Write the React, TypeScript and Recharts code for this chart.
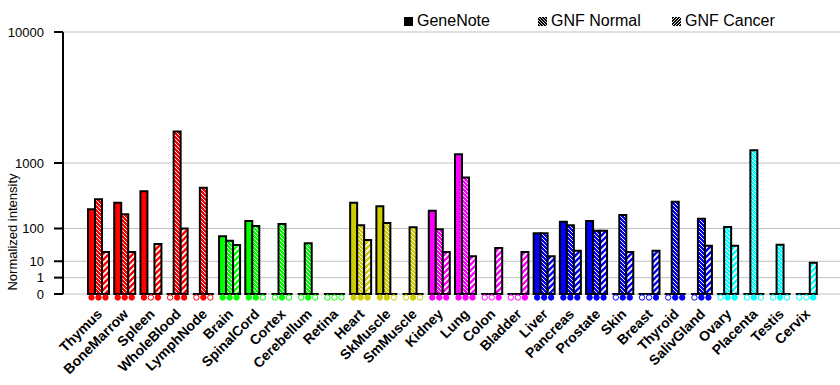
import React from 'react';
import { BarChart, Bar, XAxis, YAxis, CartesianGrid } from 'recharts';

// tissues on the x axis
const tissues = [
  'Thymus', 'BoneMarrow', 'Spleen', 'WholeBlood', 'LymphNode',
  'Brain', 'SpinalCord', 'Cortex', 'Cerebellum', 'Retina',
  'Heart', 'SkMuscle', 'SmMuscle',
  'Kidney', 'Lung', 'Colon', 'Bladder',
  'Liver', 'Pancreas', 'Prostate', 'Skin', 'Breast', 'Thyroid', 'SalivGland',
  'Ovary', 'Placenta', 'Testis', 'Cervix',
];

// colour group of each tissue
const tissueGroup = [
  'blood', 'blood', 'blood', 'blood', 'blood',
  'nerve', 'nerve', 'nerve', 'nerve', 'nerve',
  'muscle', 'muscle', 'muscle',
  'organ', 'organ', 'organ', 'organ',
  'gland', 'gland', 'gland', 'gland', 'gland', 'gland', 'gland',
  'repro', 'repro', 'repro', 'repro',
];

const groupColors: Record<string, string> = {
  blood: '#FF0000',
  nerve: '#00FF00',
  muscle: '#CCCC00',
  organ: '#FF00FF',
  gland: '#0000FF',
  repro: '#00FFFF',
};

// normalized intensities
const geneNote = [235, 300, 446, 0, 0, 66, 144, 0, 0, 0, 300, 265, 0, 221, 1240, 0, 0, 78, 138, 144, 0, 0, 0, 0, 0, 0, 0, 0];
const gnfNormal = [341, 193, 0, 2050, 497, 50, 113, 124, 43, 0, 118, 130, 107, 96, 676, 0, 0, 78, 118, 89, 187, 0, 311, 158, 108, 1360, 39, 0];
const gnfCancer = [23, 23, 41, 100, 0, 38, 0, 0, 0, 0, 53, 0, 0, 23, 16, 31, 23, 16, 25, 89, 23, 25, 0, 36, 36, 0, 0, 8.6];

// present (1) / absent (0) calls, shown as the dots under the bars
const geneNoteCall = [1, 1, 1, 0, 0, 1, 1, 0, 0, 0, 1, 1, 0, 1, 1, 0, 0, 1, 1, 1, 0, 0, 0, 0, 0, 0, 0, 0];
const gnfNormalCall = [1, 1, 0, 1, 1, 1, 1, 1, 1, 0, 1, 1, 1, 1, 1, 0, 0, 1, 1, 1, 1, 0, 1, 1, 1, 1, 1, 0];
const gnfCancerCall = [1, 1, 1, 1, 0, 1, 0, 0, 0, 0, 1, 0, 0, 1, 1, 1, 1, 1, 1, 1, 1, 1, 1, 1, 1, 0, 0, 1];

const yTickValues = [0, 1, 10, 100, 1000, 10000];

// axis is a power scale: each decade takes the same step as 0..1
const toAxis = (v: number) => (v > 0 ? Math.pow(2, Math.log10(v)) : 0);
const fromAxis = (t: number) => (t > 0 ? Math.round(Math.pow(10, Math.log2(t))) : 0);

const series = [
  { key: 'geneNote', name: 'GeneNote', kind: 'solid', calls: geneNoteCall },
  { key: 'gnfNormal', name: 'GNF Normal', kind: 'normal', calls: gnfNormalCall },
  { key: 'gnfCancer', name: 'GNF Cancer', kind: 'cancer', calls: gnfCancerCall },
];

const data = tissues.map((tissue, i) => ({
  tissue,
  geneNote: toAxis(geneNote[i]),
  gnfNormal: toAxis(gnfNormal[i]),
  gnfCancer: toAxis(gnfCancer[i]),
}));

const FONT = '"Liberation Sans", Arial, sans-serif';
const groups = Object.keys(groupColors);

const fillFor = (kind: string, group: string) => {
  if (kind === 'solid') return groupColors[group];
  return `url(#${kind}-${group})`;
};

const makeShape = (s: typeof series[number]) => (props: any) => {
  const { x, y, width, height, payload } = props;
  const i = tissues.indexOf(payload.tissue);
  const group = tissueGroup[i];
  const color = groupColors[group];
  const base = y + height;
  const on = s.calls[i] === 1;
  return (
    <g>
      <path
        d={`M${x},${base}V${y}H${x + width}V${base}Z`}
        fill={fillFor(s.kind, group)}
        stroke="#000"
        strokeWidth={2}
      />
      <circle cx={x + width / 2} cy={base + 3.5} r={2.7} fill={on ? color : '#fff'} stroke={color} strokeWidth={1} />
    </g>
  );
};

const TissueTick = (props: any) => {
  const { x, y, payload } = props;
  return (
    <text
      transform={`translate(${x + 4},${y + 21}) rotate(-45)`}
      textAnchor="end"
      fontFamily={FONT}
      fontSize={14}
      fontWeight="bold"
      fill="#000"
    >
      {payload.value}
    </text>
  );
};

const YLabel = () => (
  <text transform="translate(17,232) rotate(-90)" textAnchor="middle" fontFamily={FONT} fontSize={13} fill="#000">
    Normalized intensity
  </text>
);

const LegendIcon = ({ kind }: { kind: string }) => (
  <svg width={9} height={9} style={{ display: 'block' }}>
    <defs>
      <pattern id={`lg-${kind}`} patternUnits="userSpaceOnUse" width={3} height={3}>
        <rect width={3} height={3} fill="#000" />
        {kind === 'normal' && <path d="M0,0L3,3M-1,2L1,4M2,-1L4,1" stroke="#fff" strokeWidth={0.8} />}
        {kind === 'cancer' && <path d="M0,3L3,0M-1,1L1,-1M2,4L4,2" stroke="#fff" strokeWidth={0.9} />}
      </pattern>
    </defs>
    <rect width={9} height={9} fill={kind === 'solid' ? '#000' : `url(#lg-${kind})`} />
  </svg>
);

export default function App() {
  return (
    <div style={{ position: 'absolute', left: 0, top: 0, width: 840, height: 385, background: '#fff' }}>
      <div style={{ position: 'absolute', left: 404, top: 11, display: 'flex', fontFamily: FONT, fontSize: 16, lineHeight: '20px' }}>
        {series.map((s) => (
          <div key={s.key} style={{ width: 134, display: 'flex', alignItems: 'center' }}>
            <LegendIcon kind={s.kind} />
            <span style={{ marginLeft: 4 }}>{s.name}</span>
          </div>
        ))}
      </div>
      <BarChart
        width={840}
        height={385}
        data={data}
        margin={{ top: 32, right: 0, bottom: 0, left: 0 }}
        barCategoryGap={2}
        barGap={0}
      >
        <defs>
          {groups.map((g) => (
            <React.Fragment key={g}>
              <pattern id={`normal-${g}`} patternUnits="userSpaceOnUse" width={4} height={4}>
                <rect width={4} height={4} fill={groupColors[g]} />
                <path d="M0,0L4,4M-1,3L1,5M3,-1L5,1" stroke="#fff" strokeWidth={1} />
              </pattern>
              <pattern id={`cancer-${g}`} patternUnits="userSpaceOnUse" width={6} height={6}>
                <rect width={6} height={6} fill={groupColors[g]} />
                <path d="M0,6L6,0M-1,1L1,-1M5,7L7,5" stroke="#fff" strokeWidth={1.8} />
              </pattern>
            </React.Fragment>
          ))}
        </defs>
        <CartesianGrid vertical={false} stroke="#C0C0C0" />
        <XAxis
          dataKey="tissue"
          interval={0}
          height={91}
          padding={{ left: 23, right: 20 }}
          axisLine={false}
          tickLine={false}
          tickSize={0}
          tickMargin={0}
          tick={<TissueTick />}
        />
        <YAxis
          width={63}
          type="number"
          domain={[0, 16]}
          ticks={yTickValues.map(toAxis)}
          interval={0}
          tickFormatter={(t: number) => String(fromAxis(t))}
          axisLine={{ stroke: '#000', strokeWidth: 2 }}
          tickLine={{ stroke: '#000', strokeWidth: 2 }}
          tickSize={9}
          tickMargin={10}
          tick={{ fill: '#000', fontSize: 13, fontFamily: FONT }}
          label={<YLabel />}
        />
        {series.map((s) => (
          <Bar key={s.key} dataKey={s.key} name={s.name} shape={makeShape(s)} isAnimationActive={false} />
        ))}
      </BarChart>
    </div>
  );
}
